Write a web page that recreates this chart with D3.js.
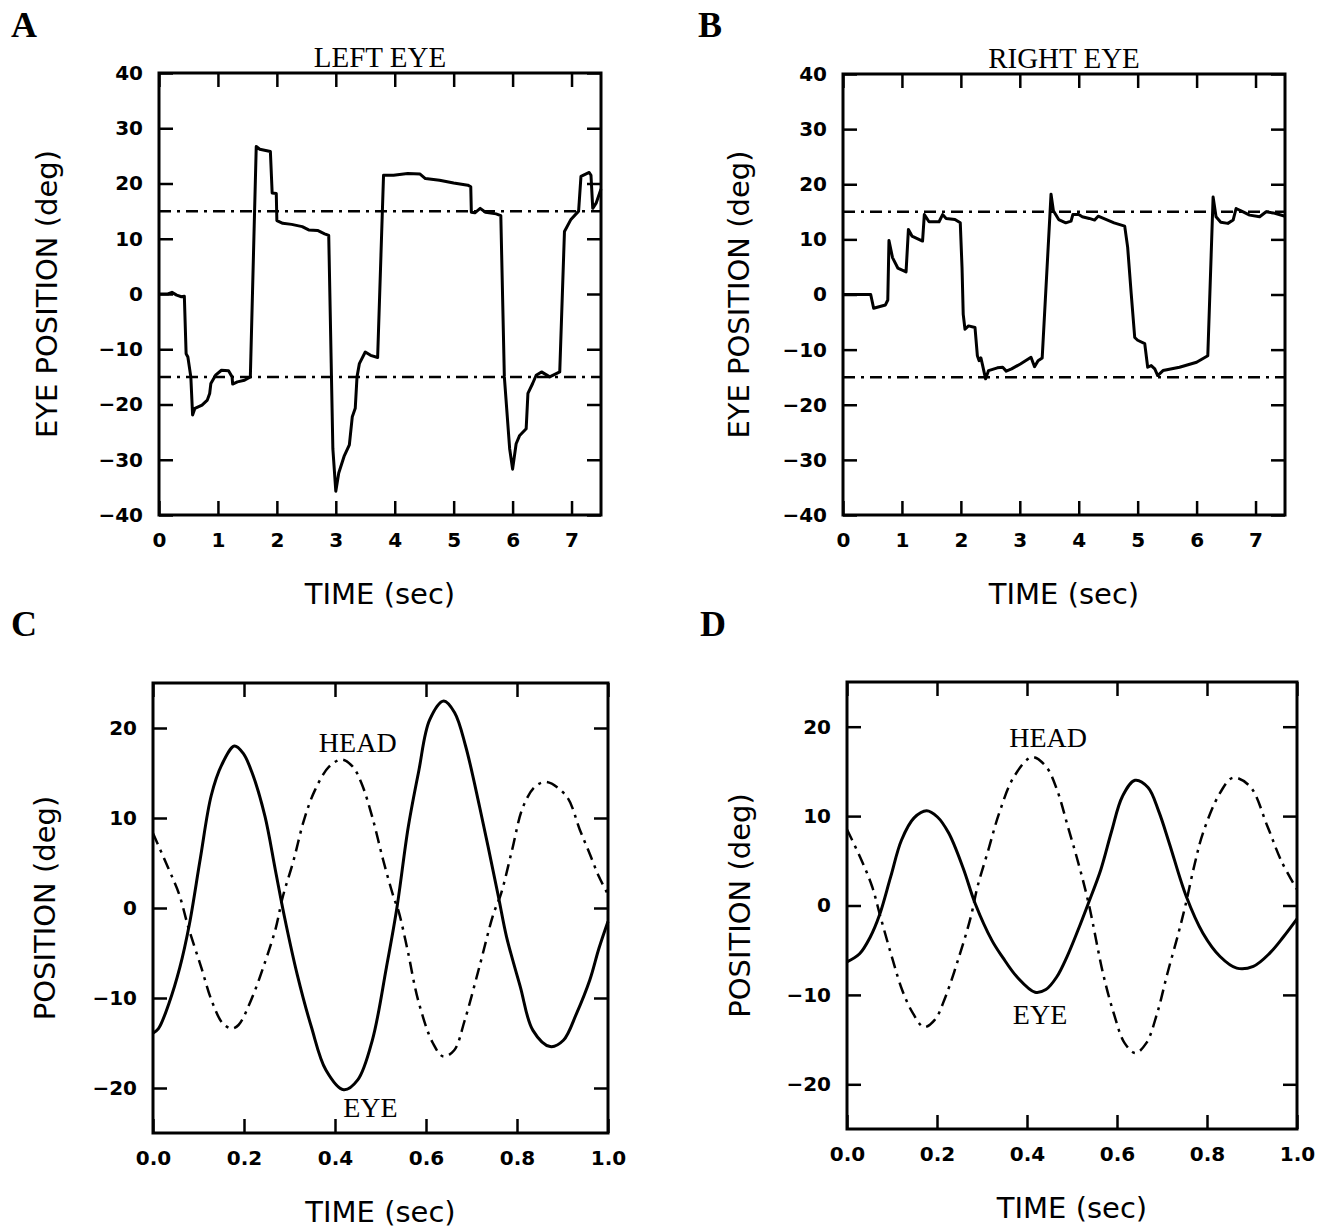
<!DOCTYPE html>
<html>
<head>
<meta charset="utf-8">
<script src="https://cdn.jsdelivr.net/npm/d3@7/dist/d3.min.js"></script>
<style>
  body { margin: 0; background: #fff; }
  svg { display: block; }
  .tick text { font-family: 'DejaVu Sans', sans-serif; font-weight: bold; font-size: 20px; fill: #000; }
  .tick line { stroke: #000; stroke-width: 2.5; }
</style>
</head>
<body>
<div class="chart"></div>
<script>
// [time (sec), position (deg)]
var leftEye = [[0,0],[0.15,0],[0.22,0.3],[0.3,-0.2],[0.38,-0.5],[0.43,-0.4],[0.46,-10.8],[0.49,-11.4],[0.54,-15],[0.57,-21.9],[0.61,-20.7],[0.73,-20.1],[0.82,-19.2],[0.86,-18],[0.88,-16.2],[0.96,-14.7],[1.06,-13.8],[1.18,-13.9],[1.24,-15],[1.25,-16.3],[1.33,-15.9],[1.45,-15.6],[1.55,-15],[1.65,26.7],[1.71,26.2],[1.89,25.8],[1.92,18.3],[1.99,18.2],[2.0,13.3],[2.1,12.8],[2.25,12.6],[2.43,12.2],[2.54,11.6],[2.69,11.5],[2.81,10.9],[2.88,10.6],[2.95,-28],[3.0,-35.7],[3.05,-32.4],[3.14,-29.4],[3.23,-27.3],[3.28,-22.2],[3.33,-20.7],[3.36,-15],[3.4,-12.6],[3.5,-10.5],[3.59,-11.1],[3.71,-11.5],[3.81,21.5],[3.98,21.5],[4.22,21.8],[4.43,21.7],[4.52,20.9],[4.76,20.6],[5.0,20.1],[5.24,19.7],[5.29,19.4],[5.3,14.8],[5.36,14.7],[5.45,15.5],[5.54,14.8],[5.72,14.5],[5.8,14.2],[5.86,-15],[5.95,-28],[6.0,-31.7],[6.06,-27.1],[6.12,-25.6],[6.23,-24.4],[6.26,-18],[6.34,-16.2],[6.4,-14.7],[6.49,-14.1],[6.63,-15],[6.8,-14.1],[6.88,11.3],[6.99,13.5],[7.12,15],[7.16,21.3],[7.3,22],[7.33,21.5],[7.36,15.5],[7.42,16.5],[7.5,19]];
var rightEye = [[0,0],[0.47,0],[0.52,-2.5],[0.72,-1.9],[0.76,-1],[0.78,9.8],[0.84,6.7],[0.93,4.8],[1.07,4.1],[1.11,11.8],[1.17,10.6],[1.35,9.7],[1.38,14.5],[1.46,13.2],[1.63,13.2],[1.69,14.5],[1.75,13.8],[1.9,13.6],[1.99,13],[2.02,4.8],[2.04,-3.6],[2.07,-6.3],[2.13,-5.7],[2.24,-6],[2.28,-11.1],[2.31,-12],[2.34,-11.5],[2.37,-12.9],[2.42,-15.3],[2.47,-13.8],[2.62,-13.3],[2.71,-13.2],[2.77,-13.9],[2.86,-13.5],[3.01,-12.6],[3.19,-11.4],[3.25,-13.1],[3.31,-12],[3.38,-11.5],[3.53,18.2],[3.57,15.2],[3.66,13.6],[3.78,13],[3.87,13.3],[3.9,14.5],[4.0,14.5],[4.06,14.1],[4.18,13.8],[4.27,13.5],[4.33,14.2],[4.42,13.8],[4.6,13],[4.78,12.4],[4.83,8.6],[4.89,0.2],[4.95,-7.8],[5.0,-8.3],[5.12,-8.9],[5.17,-13.2],[5.23,-12.9],[5.29,-13.5],[5.34,-14.7],[5.43,-13.8],[5.71,-13.2],[6.0,-12.3],[6.19,-11.1],[6.28,17.7],[6.33,14.1],[6.41,13.1],[6.53,12.9],[6.62,13.5],[6.67,15.6],[6.79,15],[6.9,14.4],[7.07,14.1],[7.18,15],[7.3,14.8],[7.4,14.5],[7.5,14.2]];

var eyeC = [[0,-13.9],[0.012,-13.4],[0.035,-10.6],[0.059,-6.6],[0.08,-1.8],[0.104,5.5],[0.128,12.5],[0.151,15.9],[0.179,18],[0.198,17.2],[0.218,15],[0.246,10.2],[0.269,4.2],[0.289,-1],[0.317,-7.4],[0.348,-13.2],[0.38,-18],[0.419,-20.2],[0.45,-19.1],[0.482,-14.7],[0.513,-6.6],[0.536,0],[0.561,9],[0.584,15.2],[0.608,20.9],[0.639,23],[0.663,21.7],[0.687,18],[0.718,11.2],[0.759,1.3],[0.777,-3.2],[0.807,-8.7],[0.835,-13.6],[0.873,-15.4],[0.902,-14.7],[0.931,-11.7],[0.96,-8],[0.98,-4.5],[1.0,-1.5]];
var headC = [[0,8.3],[0.033,4.5],[0.057,1.6],[0.078,-2.2],[0.106,-6.6],[0.129,-10.3],[0.153,-12.8],[0.173,-13.4],[0.188,-13],[0.215,-10.3],[0.247,-5.9],[0.27,-2.2],[0.285,1.2],[0.309,5.3],[0.332,9.8],[0.356,13.1],[0.387,15.7],[0.415,16.5],[0.439,15.7],[0.458,13.9],[0.482,10.1],[0.506,5.3],[0.529,1.2],[0.54,-0.4],[0.56,-4.8],[0.583,-10.3],[0.615,-15],[0.638,-16.5],[0.662,-15.8],[0.685,-12.5],[0.717,-6.6],[0.748,-0.7],[0.765,1.6],[0.789,6.4],[0.813,11.2],[0.84,13.5],[0.865,14],[0.909,12.4],[0.938,8.7],[0.96,6],[0.98,3.5],[1.0,1.5]];
var eyeD = [[0,-6.3],[0.028,-5.4],[0.052,-3.5],[0.072,-1.1],[0.097,3.2],[0.121,7.3],[0.149,9.8],[0.177,10.6],[0.201,9.9],[0.226,8.1],[0.258,4.2],[0.285,0.2],[0.322,-3.9],[0.346,-5.8],[0.378,-8],[0.418,-9.7],[0.442,-9.4],[0.466,-8],[0.49,-5.6],[0.513,-2.8],[0.536,0.2],[0.564,4],[0.588,8.3],[0.612,12.2],[0.64,14],[0.669,13.2],[0.693,10.5],[0.716,7],[0.754,1],[0.791,-3.1],[0.829,-5.7],[0.866,-7],[0.903,-6.8],[0.94,-5.3],[0.97,-3.5],[1.0,-1.5]];
var headD = [[0,8.5],[0.032,5.1],[0.056,2.1],[0.074,-1.2],[0.1,-5.8],[0.123,-9.5],[0.147,-12.1],[0.171,-13.6],[0.195,-12.8],[0.219,-10.2],[0.251,-5.4],[0.275,-1.3],[0.29,2.1],[0.314,6.2],[0.338,10.3],[0.371,14.4],[0.411,16.6],[0.443,15.5],[0.467,12.9],[0.491,8.8],[0.516,4.4],[0.538,0],[0.569,-7.6],[0.593,-12.1],[0.617,-15.4],[0.641,-16.5],[0.665,-15.4],[0.689,-12.1],[0.712,-7.6],[0.736,-3.2],[0.752,0],[0.772,4.5],[0.791,8.1],[0.829,12.6],[0.858,14.3],[0.896,13.3],[0.934,8.9],[0.965,5],[1.0,1.8]];

var targetLevels = [15, -15];
var saccadeTicksX = [0, 1, 2, 3, 4, 5, 6, 7];
var saccadeTicksY = [-40, -30, -20, -10, 0, 10, 20, 30, 40];
var sineTicksX = [0, 0.2, 0.4, 0.6, 0.8, 1.0];
var sineTicksY = [-20, -10, 0, 10, 20];

var svg = d3.select('.chart')
  .append('svg')
    .attr('width', 1325)
    .attr('height', 1228);

function minus(s) { return s.replace('-', '\u2212'); }

function drawPanel(p) {
  var x = d3.scaleLinear().domain(p.xDomain).range([p.left, p.right]);
  var y = d3.scaleLinear().domain(p.yDomain).range([p.bottom, p.top]);
  var g = svg.append('g');

  // inward ticks on all four sides
  g.append('g')
    .attr('transform', 'translate(0,' + p.bottom + ')')
    .call(d3.axisBottom(x).tickValues(p.xTicks).tickSizeInner(-14).tickSizeOuter(0).tickPadding(18)
      .tickFormat(d => minus(d3.format(p.xFmt)(d))));
  g.append('g')
    .attr('transform', 'translate(0,' + p.top + ')')
    .call(d3.axisTop(x).tickValues(p.xTicks).tickSizeInner(-14).tickSizeOuter(0).tickFormat(''));
  g.append('g')
    .attr('transform', 'translate(' + p.left + ',0)')
    .call(d3.axisLeft(y).tickValues(p.yTicks).tickSizeInner(-14).tickSizeOuter(0).tickPadding(16)
      .tickFormat(d => minus(String(d))));
  g.append('g')
    .attr('transform', 'translate(' + p.right + ',0)')
    .call(d3.axisRight(y).tickValues(p.yTicks).tickSizeInner(-14).tickSizeOuter(0).tickFormat(''));
  g.selectAll('.domain').remove();

  g.append('rect')
    .attr('x', p.left).attr('y', p.top)
    .attr('width', p.right - p.left).attr('height', p.bottom - p.top)
    .style('fill', 'none').style('stroke', '#000').style('stroke-width', 3);

  var line = d3.line()
    .x(d => x(d[0]))
    .y(d => y(d[1]))
    .curve(p.smooth ? d3.curveCatmullRom.alpha(0.5) : d3.curveLinear);

  (p.dashed || []).forEach(function(s) {
    g.append('path')
      .datum(s)
      .attr('d', line)
      .style('fill', 'none').style('stroke', '#000').style('stroke-width', 2.5)
      .style('stroke-dasharray', '12,6,3,6');
  });
  (p.solid || []).forEach(function(s) {
    g.append('path')
      .datum(s)
      .attr('d', line)
      .style('fill', 'none').style('stroke', '#000').style('stroke-width', 3)
      .style('stroke-linejoin', 'round');
  });

  (p.notes || []).forEach(function(n) {
    g.append('text')
      .attr('x', x(n.t)).attr('y', y(n.v))
      .attr('text-anchor', 'middle')
      .style('font-family', "'Liberation Serif', serif").style('font-size', '28px')
      .text(n.text);
  });

  if (p.title) {
    g.append('text')
      .attr('x', (p.left + p.right) / 2).attr('y', p.top - 6)
      .attr('text-anchor', 'middle')
      .style('font-family', "'Liberation Serif', serif").style('font-size', '29px')
      .text(p.title);
  }

  g.append('text')
    .attr('x', (p.left + p.right) / 2).attr('y', p.bottom + 89)
    .attr('text-anchor', 'middle')
    .style('font-family', "'DejaVu Sans', sans-serif").style('font-size', '29px')
    .text('TIME (sec)');

  g.append('text')
    .attr('transform', 'translate(' + p.yTitleX + ',' + (p.top + p.bottom) / 2 + ') rotate(-90)')
    .attr('text-anchor', 'middle')
    .style('font-family', "'DejaVu Sans', sans-serif").style('font-size', '29px')
    .text(p.yTitle);

  svg.append('text')
    .attr('x', p.letterX).attr('y', p.letterY)
    .style('font-family', "'Liberation Serif', serif").style('font-weight', 'bold').style('font-size', '36px')
    .text(p.letter);
}

function targets(domain) {
  return targetLevels.map(v => [[domain[0], v], [domain[1], v]]);
}

drawPanel({ letter: 'A', letterX: 11, letterY: 37, title: 'LEFT EYE',
  left: 159, right: 601, top: 73, bottom: 515,
  xDomain: [0, 7.5], yDomain: [-40, 40], xTicks: saccadeTicksX, yTicks: saccadeTicksY, xFmt: 'd',
  yTitle: 'EYE POSITION (deg)', yTitleX: 57,
  solid: [leftEye], dashed: targets([0, 7.5]) });

drawPanel({ letter: 'B', letterX: 698, letterY: 37, title: 'RIGHT EYE',
  left: 843, right: 1285, top: 74, bottom: 515,
  xDomain: [0, 7.5], yDomain: [-40, 40], xTicks: saccadeTicksX, yTicks: saccadeTicksY, xFmt: 'd',
  yTitle: 'EYE POSITION (deg)', yTitleX: 749,
  solid: [rightEye], dashed: targets([0, 7.5]) });

drawPanel({ letter: 'C', letterX: 11, letterY: 636,
  left: 153, right: 608, top: 683, bottom: 1133,
  xDomain: [0, 1], yDomain: [-25, 25], xTicks: sineTicksX, yTicks: sineTicksY, xFmt: '.1f',
  yTitle: 'POSITION (deg)', yTitleX: 55, smooth: true,
  solid: [eyeC], dashed: [headC],
  notes: [{ text: 'HEAD', t: 0.45, v: 17.3 }, { text: 'EYE', t: 0.478, v: -23.2 }] });

drawPanel({ letter: 'D', letterX: 700, letterY: 636,
  left: 847, right: 1297, top: 682, bottom: 1129,
  xDomain: [0, 1], yDomain: [-25, 25], xTicks: sineTicksX, yTicks: sineTicksY, xFmt: '.1f',
  yTitle: 'POSITION (deg)', yTitleX: 750, smooth: true,
  solid: [eyeD], dashed: [headD],
  notes: [{ text: 'HEAD', t: 0.447, v: 17.7 }, { text: 'EYE', t: 0.429, v: -13.3 }] });
</script>
</body>
</html>
